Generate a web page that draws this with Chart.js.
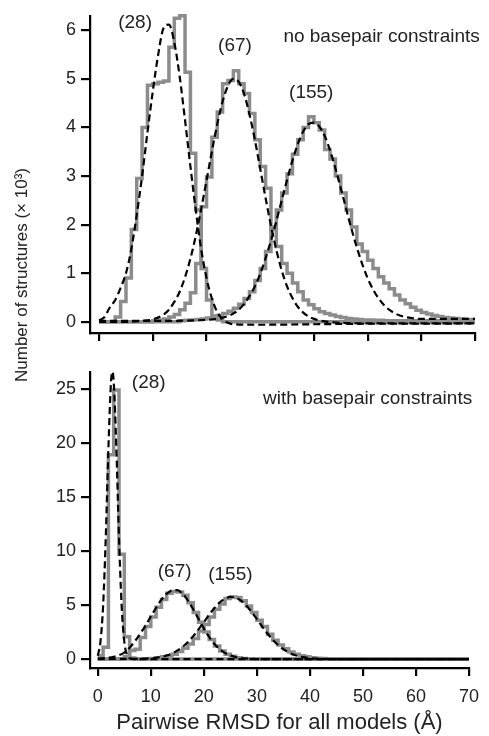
<!DOCTYPE html>
<html>
<head>
<meta charset="utf-8">
<script src="https://cdn.jsdelivr.net/npm/chart.js@4.4.1/dist/chart.umd.min.js"></script>
<style>
  body { margin: 0; background: #fff; }
  #wrap { position: relative; width: 489px; height: 736px; font-family: "Liberation Sans", Arial, sans-serif; }
  canvas { position: absolute; left: 0; }
  #ytitle {
    position: absolute; left: 22px; top: 275px;
    transform: translate(-50%, -50%) rotate(-90deg);
    white-space: nowrap; font-size: 17px; color: #222;
  }
</style>
</head>
<body>
<div id="wrap">
  <canvas id="top-chart" width="489" height="350" style="top:0"></canvas>
  <canvas id="bottom-chart" width="489" height="386" style="top:350px"></canvas>
  <div id="ytitle">Number of structures (× 10³)</div>
</div>
<script>
// histogram bins are 1 Å wide, starting at 0 Å
const binWidth = 1;

const xTicks = [0, 10, 20, 30, 40, 50, 60, 70];
const yTicksTop = [0, 1, 2, 3, 4, 5, 6];
const yTicksBottom = [0, 5, 10, 15, 20, 25];

// ---- no basepair constraints (counts x 10^3 per bin)
const histTop28 = [
  0, 0, 0, 0.1, 0.42, 0.9, 1.9, 2.95, 4.0, 4.87,
  4.9, 4.93, 4.96, 5.65, 6.25, 6.3, 5.14, 3.47, 2.3, 1.1,
  0.45, 0.12, 0.04, 0, 0, 0, 0, 0, 0, 0,
  0, 0, 0, 0, 0, 0, 0, 0, 0, 0,
  0, 0, 0, 0, 0, 0, 0, 0, 0, 0,
  0, 0, 0, 0, 0, 0, 0, 0, 0, 0,
  0, 0, 0, 0, 0, 0, 0, 0, 0, 0
];
const histTop67 = [
  0, 0, 0, 0, 0, 0, 0, 0, 0, 0,
  0.02, 0.04, 0.06, 0.1, 0.15, 0.25, 0.38, 0.6, 1.2, 2.37,
  2.98, 3.8, 4.32, 4.9, 4.97, 5.17, 4.9, 4.7, 4.29, 3.75,
  3.2, 2.75, 1.9, 1.55, 1.2, 1.0, 0.8, 0.62, 0.45, 0.35,
  0.27, 0.21, 0.17, 0.14, 0.11, 0.09, 0.07, 0.06, 0.05, 0.04,
  0.04, 0.03, 0.03, 0.02, 0.02, 0.02, 0.02, 0.02, 0.02, 0.02,
  0.02, 0.02, 0.02, 0.02, 0.02, 0.02, 0.02, 0.02, 0.02, 0.02
];
const histTop155 = [
  0, 0, 0, 0, 0, 0, 0, 0, 0, 0,
  0, 0, 0, 0, 0, 0.02, 0.03, 0.04, 0.05, 0.06,
  0.08, 0.1, 0.13, 0.17, 0.22, 0.28, 0.36, 0.48, 0.62, 0.85,
  1.1, 1.45, 1.95, 2.3, 2.65, 3.05, 3.45, 3.75, 4.0, 4.22,
  4.1, 3.95, 3.55, 3.35, 3.0, 2.65, 2.3, 1.95, 1.6, 1.45,
  1.27, 1.1, 0.93, 0.8, 0.68, 0.55, 0.45, 0.37, 0.3, 0.24,
  0.19, 0.16, 0.13, 0.11, 0.09, 0.08, 0.07, 0.06, 0.05, 0.05
];

const fitTop28X = [0, 1, 2, 3, 4, 5, 6, 7, 8, 9, 10, 11, 12, 13, 14, 15, 16, 17, 18, 19, 20, 21, 22, 23, 24, 25, 30, 40, 50, 60, 70];
const fitTop28Y = [0.03, 0.1, 0.3, 0.45, 0.7, 1.0, 1.5, 2.2, 3.0, 3.9, 4.75, 5.5, 6.05, 6.12, 5.75, 5.05, 4.15, 3.2, 2.3, 1.5, 0.9, 0.48, 0.2, 0.05, -0.02, -0.05, -0.06, -0.05, -0.04, -0.04, -0.03];

const fitTop67X = [0, 5, 8, 10, 12, 13, 14, 15, 16, 17, 18, 19, 20, 21, 22, 23, 24, 25, 26, 27, 28, 29, 30, 31, 32, 33, 34, 35, 36, 37, 38, 39, 40, 42, 45, 50, 60, 70];
const fitTop67Y = [0, 0, 0.02, 0.05, 0.15, 0.25, 0.41, 0.62, 0.92, 1.3, 1.77, 2.32, 2.91, 3.51, 4.07, 4.54, 4.86, 5.0, 4.94, 4.69, 4.27, 3.75, 3.15, 2.55, 1.98, 1.48, 1.06, 0.73, 0.49, 0.31, 0.19, 0.11, 0.06, 0.01, -0.02, -0.03, -0.03, -0.03];

const fitTop155X = [0, 10, 20, 22, 24, 25, 26, 27, 28, 29, 30, 31, 32, 33, 34, 35, 36, 37, 38, 39, 40, 41, 42, 43, 44, 45, 46, 47, 48, 49, 50, 51, 52, 53, 54, 55, 56, 58, 60, 65, 70];
const fitTop155Y = [0.02, 0.02, 0.04, 0.06, 0.12, 0.17, 0.25, 0.37, 0.53, 0.73, 0.99, 1.31, 1.67, 2.07, 2.5, 2.92, 3.32, 3.66, 3.92, 4.07, 4.1, 4.02, 3.83, 3.53, 3.16, 2.75, 2.33, 1.91, 1.53, 1.19, 0.9, 0.67, 0.49, 0.35, 0.25, 0.18, 0.13, 0.08, 0.06, 0.06, 0.06];

// ---- with basepair constraints
const histBot28 = [
  0.3, 1.1, 18.9, 24.9, 9.7, 2.06, 0.1, 0, 0, 0,
  0, 0, 0, 0, 0, 0, 0, 0, 0, 0,
  0, 0, 0, 0, 0, 0, 0, 0, 0, 0,
  0, 0, 0, 0, 0, 0, 0, 0, 0, 0,
  0, 0, 0, 0, 0, 0, 0, 0, 0, 0,
  0, 0, 0, 0, 0, 0, 0, 0, 0, 0,
  0, 0, 0, 0, 0, 0, 0, 0, 0, 0
];
const histBot67 = [
  0, 0, 0, 0, 0, 0.2, 0.8, 0.9, 2.0, 3.0,
  3.9, 4.8, 5.5, 6.1, 6.25, 6.2, 5.9, 5.2, 4.3, 3.4,
  2.5, 1.8, 1.2, 0.75, 0.45, 0.25, 0.12, 0.06, 0.03, 0,
  0, 0, 0, 0, 0, 0, 0, 0, 0, 0,
  0, 0, 0, 0, 0, 0, 0, 0, 0, 0,
  0, 0, 0, 0, 0, 0, 0, 0, 0, 0,
  0, 0, 0, 0, 0, 0, 0, 0, 0, 0
];
const histBot155 = [
  0, 0, 0, 0, 0, 0, 0, 0, 0, 0,
  0.05, 0.1, 0.2, 0.3, 0.45, 0.7, 1.0, 1.4, 1.9, 2.6,
  3.2, 3.9, 4.6, 5.1, 5.6, 5.75, 5.7, 5.4, 4.9, 4.3,
  3.6, 3.0, 2.3, 1.75, 1.3, 0.95, 0.65, 0.45, 0.3, 0.2,
  0.12, 0.08, 0.05, 0.03, 0.02, 0, 0, 0, 0, 0,
  0, 0, 0, 0, 0, 0, 0, 0, 0, 0,
  0, 0, 0, 0, 0, 0, 0, 0, 0, 0
];

const fitBot28X = [0, 0.5, 1, 1.5, 2, 2.5, 2.75, 3, 3.5, 4, 4.5, 5, 5.5, 6, 7, 10, 20, 30, 40, 50, 60, 70];
const fitBot28Y = [0.3, 1.6, 4.9, 11.2, 19.5, 25.7, 26.6, 25.7, 19.5, 11.2, 4.9, 1.6, 0.4, 0.07, 0, 0, 0, 0, 0, 0, 0, 0];

const fitBot67X = [0, 2, 3, 4, 5, 6, 7, 8, 9, 10, 11, 12, 13, 14, 15, 16, 17, 18, 19, 20, 21, 22, 23, 24, 25, 26, 27, 28, 30, 40, 50, 60, 70];
const fitBot67Y = [0.03, 0.12, 0.2, 0.35, 0.6, 1.05, 1.65, 2.35, 3.1, 3.95, 4.75, 5.5, 6.05, 6.35, 6.38, 6.02, 5.41, 4.6, 3.7, 2.83, 2.04, 1.4, 0.91, 0.56, 0.33, 0.18, 0.1, 0.05, 0, 0, 0, 0, 0];

const fitBot155X = [0, 5, 10, 12, 13, 14, 15, 16, 17, 18, 19, 20, 21, 22, 23, 24, 25, 26, 27, 28, 29, 30, 31, 32, 33, 34, 35, 36, 37, 38, 39, 40, 42, 45, 50, 60, 70];
const fitBot155Y = [0, 0.01, 0.07, 0.2, 0.33, 0.52, 0.78, 1.13, 1.58, 2.12, 2.75, 3.42, 4.1, 4.72, 5.24, 5.59, 5.75, 5.68, 5.4, 4.95, 4.35, 3.69, 3.01, 2.36, 1.78, 1.3, 0.91, 0.61, 0.39, 0.25, 0.15, 0.09, 0.03, 0, 0, 0, 0];

const FONT = '"Liberation Sans", Arial, sans-serif';
const GRAY = "#8c8c8c";
const TEXT = "#222";

function histPoints(values) {
  const pts = values.map((v, i) => ({ x: i * binWidth, y: v }));
  pts.push({ x: values.length * binWidth, y: values[values.length - 1] });
  return pts;
}

function fitPoints(xs, ys) {
  return xs.map((x, i) => ({ x: x, y: ys[i] }));
}

function histSet(values) {
  return {
    data: histPoints(values),
    borderColor: GRAY,
    borderWidth: 3.5,
    stepped: true,
    borderJoinStyle: "miter",
    pointRadius: 0,
    clip: false,
  };
}

function fitSet(xs, ys) {
  return {
    data: fitPoints(xs, ys),
    borderColor: "#000",
    borderWidth: 2.2,
    borderDash: [7, 4],
    cubicInterpolationMode: "monotone",
    pointRadius: 0,
    clip: false,
  };
}

const panelText = {
  id: "panelText",
  afterDatasetsDraw(chart, args, opts) {
    const { ctx } = chart;
    const x = chart.scales.x;
    const y = chart.scales.y;
    ctx.save();
    ctx.font = "19px " + FONT;
    ctx.fillStyle = TEXT;
    ctx.textBaseline = "middle";
    opts.items.forEach((it) => {
      ctx.textAlign = it.align || "center";
      ctx.fillText(it.text, x.getPixelForValue(it.x), y.getPixelForValue(it.y));
    });
    ctx.restore();
  },
};

function axisCommon(ticks, tickLength) {
  return {
    type: "linear",
    afterBuildTicks: (scale) => {
      scale.ticks = ticks.map((v) => ({ value: v }));
    },
    border: { display: true, color: "#000", width: 2.2 },
    grid: {
      display: true,
      drawOnChartArea: false,
      drawTicks: true,
      tickLength: tickLength,
      tickWidth: 2.2,
      lineWidth: 2.2,
      tickColor: "#000",
    },
  };
}

function makeChart(canvas, cfg) {
  const xAxis = axisCommon(xTicks, 8);
  xAxis.min = cfg.xMin;
  xAxis.max = 70;
  xAxis.ticks = {
    display: cfg.showXLabels,
    color: TEXT,
    font: { family: FONT, size: 18 },
    padding: 10,
    maxRotation: 0,
    callback: (v) => v,
  };
  xAxis.afterFit = (s) => { s.height = cfg.xHeight; };
  if (cfg.showXLabels) {
    xAxis.title = {
      display: true,
      text: "Pairwise RMSD for all models (Å)",
      color: TEXT,
      font: { family: FONT, size: 22 },
      padding: { top: 0, bottom: 0 },
    };
  }

  const yAxis = axisCommon(cfg.yTicks, 9);
  yAxis.min = cfg.yMin;
  yAxis.max = cfg.yMax;
  yAxis.ticks = {
    color: TEXT,
    font: { family: FONT, size: 18 },
    padding: 5,
    callback: (v) => v,
  };
  yAxis.afterFit = (s) => { s.width = 90; };

  return new Chart(canvas, {
    type: "line",
    data: { datasets: cfg.datasets },
    plugins: [panelText],
    options: {
      responsive: false,
      animation: false,
      events: [],
      layout: { padding: cfg.padding },
      plugins: {
        legend: { display: false },
        tooltip: { enabled: false },
        panelText: { items: cfg.labels },
      },
      scales: { x: xAxis, y: yAxis },
    },
  });
}

makeChart(document.getElementById("top-chart"), {
  xMin: -1.7,
  yMin: -0.23,
  yMax: 6.3,
  yTicks: yTicksTop,
  showXLabels: false,
  xHeight: 17,
  padding: { top: 15, right: 14, bottom: 0, left: 0 },
  datasets: [
    fitSet(fitTop28X, fitTop28Y),
    fitSet(fitTop67X, fitTop67Y),
    fitSet(fitTop155X, fitTop155Y),
    histSet(histTop28),
    histSet(histTop67),
    histSet(histTop155),
  ],
  labels: [
    { text: "(28)", x: 6.7, y: 6.16 },
    { text: "(67)", x: 25.3, y: 5.69 },
    { text: "(155)", x: 39.5, y: 4.72 },
    { text: "no basepair constraints", x: 70.9, y: 5.87, align: "right" },
  ],
});

makeChart(document.getElementById("bottom-chart"), {
  xMin: -1.47,
  yMin: -0.83,
  yMax: 26.57,
  yTicks: yTicksBottom,
  showXLabels: true,
  xHeight: 68,
  padding: { top: 22, right: 10, bottom: 0, left: 0 },
  datasets: [
    fitSet(fitBot28X, fitBot28Y),
    fitSet(fitBot67X, fitBot67Y),
    fitSet(fitBot155X, fitBot155Y),
    histSet(histBot28),
    histSet(histBot67),
    histSet(histBot155),
  ],
  labels: [
    { text: "(28)", x: 9.6, y: 25.6 },
    { text: "(67)", x: 14.5, y: 8.06 },
    { text: "(155)", x: 25.0, y: 7.8 },
    { text: "with basepair constraints", x: 70.6, y: 24.1, align: "right" },
  ],
});
</script>
</body>
</html>
